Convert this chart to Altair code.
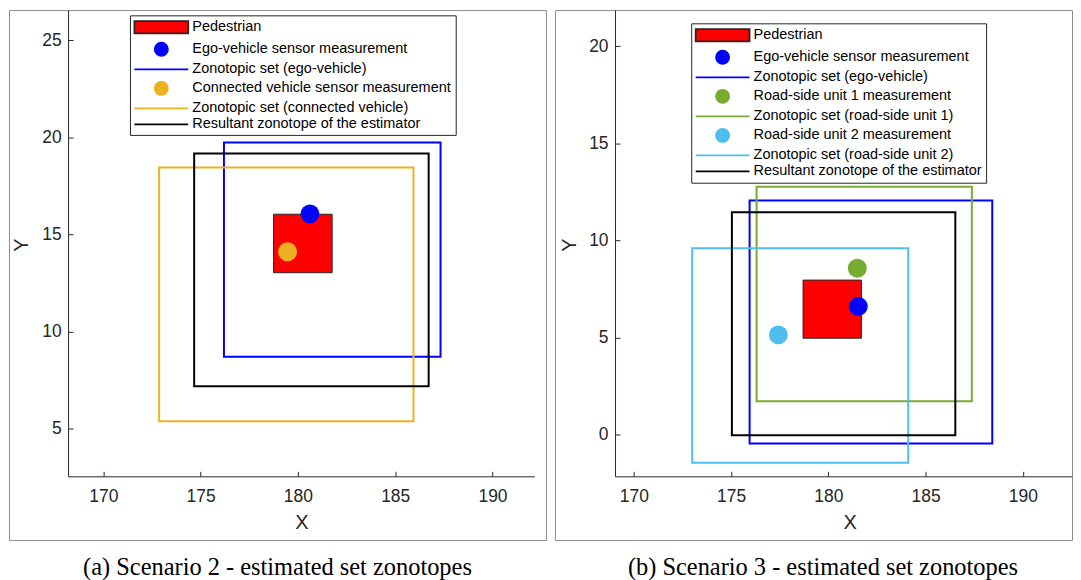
import altair as alt
import pandas as pd

# ---------------- Scenario 2 (panel a) ----------------
a_ped_x = [178.75, 181.76]
a_ped_y = [13.03, 16.04]

a_zono_names = ["Zonotopic set (ego-vehicle)",
                "Zonotopic set (connected vehicle)",
                "Resultant zonotope of the estimator"]
a_zono_xmin = [176.20, 172.87, 174.67]
a_zono_xmax = [187.33, 185.94, 186.72]
a_zono_ymin = [8.71, 5.39, 7.18]
a_zono_ymax = [19.73, 18.45, 19.17]

a_meas_names = ["Ego-vehicle sensor measurement",
                "Connected vehicle sensor measurement"]
a_meas_x = [180.62, 179.47]
a_meas_y = [16.06, 14.11]

a_legend_names = ["Pedestrian",
                  "Ego-vehicle sensor measurement",
                  "Zonotopic set (ego-vehicle)",
                  "Connected vehicle sensor measurement",
                  "Zonotopic set (connected vehicle)",
                  "Resultant zonotope of the estimator"]
a_legend_kinds = ["patch", "dot", "line", "dot", "line", "line"]

a_xlim = [168.19, 192.15]
a_ylim = [2.55, 26.55]
a_xticks = [170, 175, 180, 185, 190]
a_yticks = [5, 10, 15, 20, 25]
a_caption = "(a) Scenario 2 - estimated set zonotopes"

# ---------------- Scenario 3 (panel b) ----------------
b_ped_x = [178.70, 181.70]
b_ped_y = [4.97, 7.96]

b_zono_names = ["Zonotopic set (ego-vehicle)",
                "Zonotopic set (road-side unit 1)",
                "Zonotopic set (road-side unit 2)",
                "Resultant zonotope of the estimator"]
b_zono_xmin = [175.95, 176.31, 173.00, 175.04]
b_zono_xmax = [188.43, 187.38, 184.11, 186.53]
b_zono_ymin = [-0.45, 1.72, -1.44, -0.03]
b_zono_ymax = [12.06, 12.76, 9.60, 11.45]

b_meas_names = ["Ego-vehicle sensor measurement",
                "Road-side unit 1 measurement",
                "Road-side unit 2 measurement"]
b_meas_x = [181.54, 181.49, 177.43]
b_meas_y = [6.61, 8.57, 5.14]

b_legend_names = ["Pedestrian",
                  "Ego-vehicle sensor measurement",
                  "Zonotopic set (ego-vehicle)",
                  "Road-side unit 1 measurement",
                  "Zonotopic set (road-side unit 1)",
                  "Road-side unit 2 measurement",
                  "Zonotopic set (road-side unit 2)",
                  "Resultant zonotope of the estimator"]
b_legend_kinds = ["patch", "dot", "line", "dot", "line", "dot", "line", "line"]

b_xlim = [169.03, 192.53]
b_ylim = [-2.14, 21.86]
b_xticks = [170, 175, 180, 185, 190]
b_yticks = [0, 5, 10, 15, 20]
b_caption = "(b) Scenario 3 - estimated set zonotopes"

# ---------------- styles ----------------
COL = {
    "Pedestrian": "#FF0000",
    "Ego-vehicle sensor measurement": "#0000FF",
    "Zonotopic set (ego-vehicle)": "#0000FF",
    "Connected vehicle sensor measurement": "#EDB120",
    "Zonotopic set (connected vehicle)": "#EDB120",
    "Road-side unit 1 measurement": "#77AC30",
    "Zonotopic set (road-side unit 1)": "#77AC30",
    "Road-side unit 2 measurement": "#4DBEEE",
    "Zonotopic set (road-side unit 2)": "#4DBEEE",
    "Resultant zonotope of the estimator": "#000000",
}
# legend symbol paths, in units of sqrt(symbolSize)/2 = 7 px
SHAPE = {
    "patch": "M-3.857,-0.88H3.857V0.88H-3.857Z",
    "line": "M-3.857,0H3.857",
    "dot": "M-0.94,0A0.94,0.94 0 1,0 0.94,0A0.94,0.94 0 1,0 -0.94,0Z",
}
FONT = "Liberation Sans"
AX = "#262626"
VIEW_H = 532
PLOT_H = 468


def panel(ped_x, ped_y, zn, zx1, zx2, zy1, zy2, mn, mx, my, ln, lk,
          xlim, ylim, xt, yt, cap, vw, xpx, lx, ly, ytx, xtx, cdx):
    xs = alt.Scale(domain=xlim, range=xpx, nice=False, zero=False)
    ys = alt.Scale(domain=ylim, range=[PLOT_H, 0], nice=False, zero=False)
    # colour scale for the drawn marks (domain differs from the legend's one)
    mark_names = zn + mn
    cs = alt.Scale(domain=mark_names, range=[COL[n] for n in mark_names])

    boxes = pd.DataFrame({"name": zn, "x1": zx1, "x2": zx2, "y1": zy1, "y2": zy2})
    ped = pd.DataFrame({"x1": [ped_x[0]], "x2": [ped_x[1]],
                        "y1": [ped_y[0]], "y2": [ped_y[1]]})
    meas = pd.DataFrame({"name": mn, "x": mx, "y": my})
    legd = pd.DataFrame({"name": ln})

    ax_bottom = alt.Axis(orient="bottom", offset=PLOT_H - VIEW_H, values=xt, format="d",
                         ticks=False, tickSize=0, grid=False, domainColor=AX, domainWidth=1,
                         labelFont=FONT, labelFontSize=17.5, labelColor=AX, labelPadding=11,
                         labelFlush=False, labelOverlap=False,
                         title="X", titleFont=FONT, titleFontSize=20, titleFontWeight="normal",
                         titleColor=AX, titleX=xtx, titleY=46.7, titleBaseline="middle",
                         titleAlign="center")
    ax_left = alt.Axis(orient="left", offset=-xpx[0], values=yt, format="d",
                       ticks=False, tickSize=0, grid=False, domainColor=AX, domainWidth=1,
                       labelFont=FONT, labelFontSize=17.5, labelColor=AX, labelPadding=7,
                       labelFlush=False, labelOverlap=False,
                       title="Y", titleFont=FONT, titleFontSize=20, titleFontWeight="normal",
                       titleColor=AX, titleAngle=270, titleX=ytx, titleY=235.3,
                       titleBaseline="middle", titleAlign="center")
    ax_top_ticks = alt.Axis(orient="top", offset=-PLOT_H, values=xt, labels=False,
                            domain=False, ticks=True, tickSize=5, tickColor=AX,
                            grid=False, title=None)
    ax_right_ticks = alt.Axis(orient="right", offset=xpx[0] - vw, values=yt, labels=False,
                              domain=False, ticks=True, tickSize=5, tickColor=AX,
                              grid=False, title=None)

    zlayer = alt.Chart(boxes).mark_rect(filled=False, strokeWidth=2).encode(
        x=alt.X("x1:Q", scale=xs, axis=ax_bottom),
        x2="x2:Q",
        y=alt.Y("y1:Q", scale=ys, axis=ax_left),
        y2="y2:Q",
        color=alt.Color("name:N", scale=cs, legend=None),
    )
    player = alt.Chart(ped).mark_rect(fill=COL["Pedestrian"], stroke=AX, strokeWidth=1).encode(
        x=alt.X("x1:Q", scale=xs, axis=ax_top_ticks),
        x2="x2:Q",
        y=alt.Y("y1:Q", scale=ys, axis=ax_right_ticks),
        y2="y2:Q",
    )
    mlayer = alt.Chart(meas).mark_circle(size=361, opacity=1).encode(
        x=alt.X("x:Q", scale=xs, axis=None),
        y=alt.Y("y:Q", scale=ys, axis=None),
        color=alt.Color("name:N", scale=cs, legend=None),
    )
    leg = alt.Legend(orient="none", legendX=lx, legendY=ly, title=None, padding=4,
                     rowPadding=1.1, symbolOffset=19.5, labelOffset=23.1,
                     labelFont=FONT, labelFontSize=14.5,
                     labelColor="black", labelLimit=0, symbolSize=196,
                     symbolStrokeWidth=1.8, symbolOpacity=1, strokeColor=AX,
                     fillColor="white")
    llayer = alt.Chart(legd).transform_filter("false").mark_point(filled=True, opacity=1).encode(
        fill=alt.Fill("name:N", scale=alt.Scale(domain=ln, range=[COL[n] for n in ln]), legend=leg),
        stroke=alt.Stroke("name:N", scale=alt.Scale(
            domain=ln, range=[AX if k == "patch" else COL[n] for n, k in zip(ln, lk)]), legend=leg),
        shape=alt.Shape("name:N", scale=alt.Scale(domain=ln, range=[SHAPE[k] for k in lk]), legend=leg),
    )
    return alt.layer(zlayer, player, mlayer, llayer).resolve_axis(
        x="independent", y="independent"
    ).properties(
        width=vw, height=VIEW_H,
        title=alt.TitleParams(cap, orient="bottom", anchor="middle", font="Liberation Serif",
                              fontSize=24.5, fontWeight="normal", color="black", offset=16,
                              dx=cdx, baseline="top"),
    )


pa = panel(a_ped_x, a_ped_y, a_zono_names, a_zono_xmin, a_zono_xmax, a_zono_ymin, a_zono_ymax,
           a_meas_names, a_meas_x, a_meas_y, a_legend_names, a_legend_kinds,
           a_xlim, a_ylim, a_xticks, a_yticks, a_caption,
           vw=539, xpx=[59.3, 527.3], lx=121.4, ly=5.3, ytx=-46.6, xtx=293.4, cdx=0)
pb = panel(b_ped_x, b_ped_y, b_zono_names, b_zono_xmin, b_zono_xmax, b_zono_ymin, b_zono_ymax,
           b_meas_names, b_meas_x, b_meas_y, b_legend_names, b_legend_kinds,
           b_xlim, b_ylim, b_xticks, b_yticks, b_caption,
           vw=519, xpx=[60.3, 519], lx=136.8, ly=13.3, ytx=-46.0, xtx=295.7, cdx=9.5)

chart = alt.hconcat(pa, pb, spacing=7).resolve_scale(
    color="independent", fill="independent", stroke="independent", shape="independent"
).resolve_legend(
    color="independent", fill="independent", stroke="independent", shape="independent"
).configure_view(
    stroke="#8c8c8c", strokeWidth=1
).properties(padding=0, background="white")

chart.save("out.html", embed_options={"renderer": "svg", "actions": False})
